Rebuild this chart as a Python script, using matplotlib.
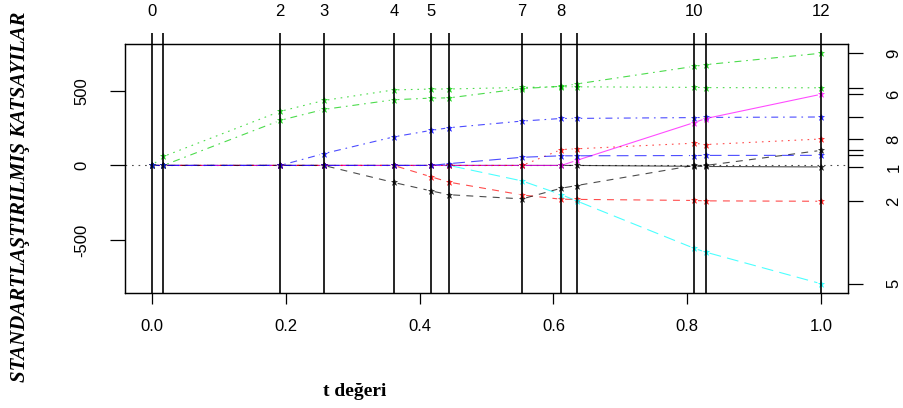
import numpy as np
import matplotlib.pyplot as plt

plt.rcParams.update({
    "font.family": ["Liberation Sans", "DejaVu Sans"],
    "font.size": 12,
    "lines.scale_dashes": False,
    "figure.dpi": 100,
})

# lasso path, coefficient of each variable at steps 0..12
age = [0, 0, 0, 0, 0, 0, 0, 0, 0, 0, -5.7, -7.0, -10.0]
sex = [0, 0, 0, 0, 0, -74.9, -112.0, -197.8, -226.1, -227.2, -234.4, -237.1, -239.8]
bmi = [0, 60.1, 361.9, 434.8, 505.7, 511.3, 512.0, 522.3, 526.9, 526.4, 522.6, 521.1, 519.8]
map_ = [0, 0, 0, 79.2, 191.3, 234.2, 252.5, 297.2, 314.4, 315.0, 320.3, 321.5, 324.4]
tc = [0, 0, 0, 0, 0, 0, 0, -103.9, -195.1, -237.3, -554.3, -580.4, -792.2]
ldl = [0, 0, 0, 0, 0, 0, 0, 0, 0, 33.6, 286.7, 313.9, 476.7]
hdl = [0, 0, 0, 0, -114.1, -169.7, -196.0, -223.9, -152.5, -134.6, 0, 0, 101.0]
tch = [0, 0, 0, 0, 0, 0, 0, 0, 106.3, 111.4, 148.9, 139.9, 177.1]
ltg = [0, 0, 301.8, 374.9, 439.7, 450.7, 452.4, 514.7, 529.9, 545.5, 663.0, 674.9, 751.3]
glu = [0, 0, 0, 0, 0, 0, 12.1, 54.8, 64.5, 64.6, 66.3, 67.2, 67.6]

steps = list(range(13))
top_labels_shown = [0, 2, 3, 4, 5, 7, 8, 10, 12]
var_ids = list(range(1, 11))
right_labels_shown = [9, 6, 8, 1, 2, 5]
bottom_ticks = [0.0, 0.2, 0.4, 0.6, 0.8, 1.0]
left_ticks = [-500, 0, 500]

# R matplot defaults: col 1:6, lty 1:5
R_COLS = ["black", "red", "#00CD00", "blue", "cyan", "magenta"]
R_LTY = [None, (0, (5, 4.5)), (0, (1.2, 3.5)), (0, (1.2, 3.5, 5, 3.5)), (0, (8.5, 4.5))]


def draw_b(ax, x, y, color, ls, gap=4.0):
    """line with gaps around points, like R type='b'"""
    pts = ax.transData.transform(np.column_stack([x, y]))
    out = []
    for (x0, y0), (x1, y1) in zip(pts[:-1], pts[1:]):
        d = np.hypot(x1 - x0, y1 - y0)
        if d <= 2 * gap:
            continue
        ux, uy = (x1 - x0) / d, (y1 - y0) / d
        out += [(x0 + ux * gap, y0 + uy * gap), (x1 - ux * gap, y1 - uy * gap), (np.nan, np.nan)]
    if out:
        seg = np.array(out)
        ok = ~np.isnan(seg[:, 0])
        seg[ok] = ax.transData.inverted().transform(seg[ok])
        ax.plot(seg[:, 0], seg[:, 1], color=color, lw=0.8, alpha=0.7,
                linestyle=ls if ls is not None else "-")
    ax.plot(x, y, ls="none", marker="*", ms=4.5, color=color, mec=color, mew=0.4, alpha=0.85)


def main():
    coefs = np.array([age, sex, bmi, map_, tc, ldl, hdl, tch, ltg, glu]).T
    l1 = np.abs(coefs).sum(axis=1)
    t = l1 / l1[-1]

    fig = plt.figure(figsize=(9.04, 4.08))
    ax = fig.add_axes([125 / 904, 1 - 293 / 408, 723 / 904, 249 / 408])
    lo, hi = coefs.min(), coefs.max()
    pad = 0.04 * (hi - lo)
    ax.set_xlim(-0.04, 1.04)
    ax.set_ylim(lo - pad, hi + pad)

    ax.axhline(0, color="black", lw=0.8, ls=(0, (1.2, 3.5)), alpha=0.7)
    for j in range(coefs.shape[1]):
        draw_b(ax, t, coefs[:, j], R_COLS[j % 6], R_LTY[j % 5])
    for v in t:
        ax.axvline(v, color="black", lw=1.2, zorder=5)

    ax.set_xticks(bottom_ticks)
    ax.set_xticklabels([f"{v:.1f}" for v in bottom_ticks])
    ax.set_yticks(left_ticks)
    ax.set_yticklabels([str(v) for v in left_ticks], rotation=90, va="center")
    ax.tick_params(axis="x", length=8, width=0.9, pad=11)
    ax.tick_params(axis="y", length=10.8, width=0.9, pad=15)
    for s in ax.spines.values():
        s.set_linewidth(0.9)

    top = ax.twiny()
    top.set_xlim(ax.get_xlim())
    top.set_xticks(t)
    top.set_xticklabels([str(s) if s in top_labels_shown else "" for s in steps])
    top.tick_params(axis="x", length=8, width=1.2, pad=10)

    right = ax.twinx()
    right.set_ylim(ax.get_ylim())
    right.set_yticks(coefs[-1])
    right.set_yticklabels([str(v) if v in right_labels_shown else "" for v in var_ids],
                          rotation=90, va="center")
    right.tick_params(axis="y", length=10.8, width=0.9, pad=17)

    fig.text(20 / 904, 1 - 197 / 408, "STANDARTLAŞTIRILMIŞ KATSAYILAR", rotation=90,
             ha="center", va="center", family="Liberation Serif", weight="bold",
             style="italic", fontsize=15)
    fig.text(355 / 904, 1 - 392 / 408, "t değeri", ha="center", va="center",
             family="Liberation Serif", weight="bold", fontsize=14)

    fig.savefig("out.png", dpi=100)
    plt.close(fig)


if __name__ == "__main__":
    main()
